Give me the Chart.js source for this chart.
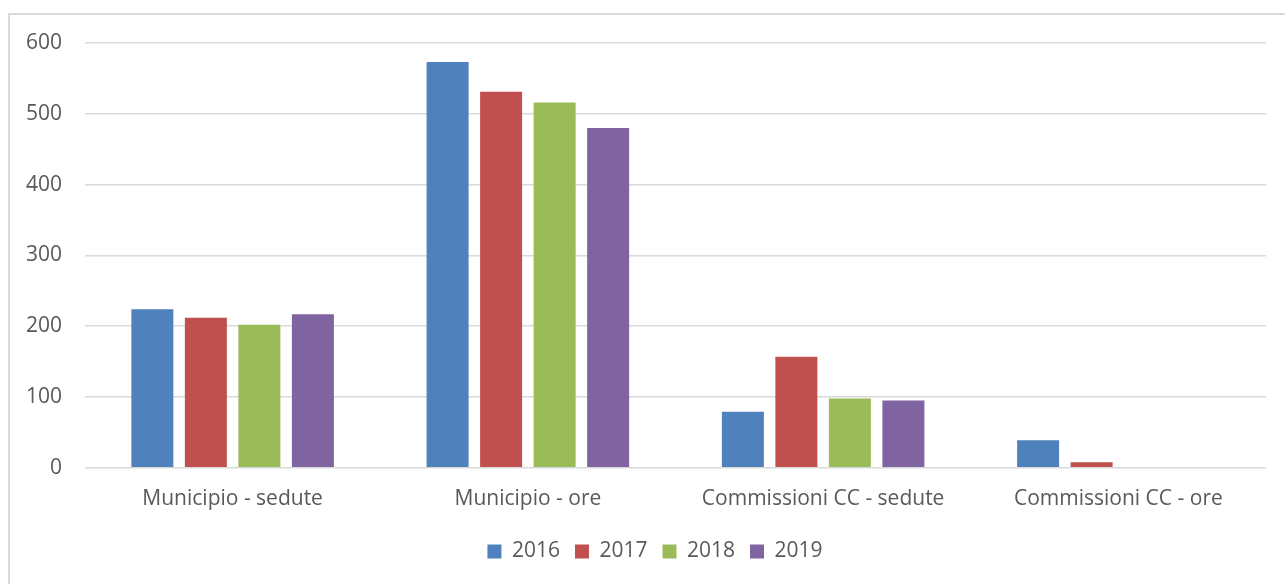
<!DOCTYPE html>
<html>
<head>
<meta charset="utf-8">
<script src="https://cdn.jsdelivr.net/npm/chart.js@4"></script>
<style>
  html, body { margin: 0; padding: 0; background: #fff; overflow: hidden; }
  #wrap { position: relative; width: 1285px; height: 584px; }
  #frame {
    position: absolute; left: 8px; top: 13px; width: 1300px; height: 600px;
    border: 2px solid #d9d9d9; box-sizing: border-box;
  }
  #box { position: absolute; left: 0; top: 0; width: 1285px; height: 584px; }
</style>
</head>
<body>
<div id="wrap">
  <div id="frame"></div>
  <div id="box"><canvas id="chart"></canvas></div>
</div>
<script>
// === Data ===
const categories = ["Municipio - sedute", "Municipio - ore", "Commissioni CC - sedute", "Commissioni CC - ore"];
const years = ["2016", "2017", "2018", "2019"];
const values2016 = [224, 573, 79, 39];
const values2017 = [212, 531, 157, 8];
const values2018 = [202, 516, 98, 0];
const values2019 = [217, 480, 95, 0];
const colors = ["#4f81bd", "#c0504d", "#9bbb59", "#8064a2"];
const yTicks = [0, 100, 200, 300, 400, 500, 600];

const FONT = { family: "'Open Sans', sans-serif", size: 21 };
const TEXT = "#595959";

const series = [values2016, values2017, values2018, values2019];
const datasets = years.map((y, i) => ({
  label: y,
  data: series[i],
  backgroundColor: colors[i],
  borderWidth: 0,
  categoryPercentage: 0.725,
  barPercentage: 0.785,
}));

// legend sits a bit right of the canvas centre and slightly higher
const shiftLegend = {
  id: "shiftLegend",
  afterLayout(chart) {
    const l = chart.legend;
    l.left += 44;
    l.top -= 5;
    l.bottom -= 5;
  },
};

new Chart(document.getElementById("chart"), {
  type: "bar",
  data: { labels: categories, datasets },
  plugins: [shiftLegend],
  options: {
    responsive: true,
    maintainAspectRatio: false,
    animation: false,
    layout: { padding: { top: 43, left: 0, right: 19, bottom: 7 } },
    plugins: {
      tooltip: { enabled: false },
      legend: {
        position: "bottom",
        labels: {
          font: FONT, color: TEXT,
          boxWidth: 14, boxHeight: 14, padding: 15,
        },
      },
    },
    scales: {
      x: {
        grid: { display: false, drawTicks: false },
        border: { display: false },
        ticks: { font: FONT, color: TEXT, padding: 19, maxRotation: 0 },
      },
      y: {
        min: 0, max: 600,
        afterFit: (s) => { s.width = 85; },
        afterBuildTicks: (s) => { s.ticks = yTicks.map(v => ({ value: v })); },
        grid: { color: "#d9d9d9", lineWidth: 1.5, drawTicks: false },
        border: { display: false },
        ticks: { font: FONT, color: TEXT, padding: 23 },
      },
    },
  },
});
</script>
</body>
</html>
